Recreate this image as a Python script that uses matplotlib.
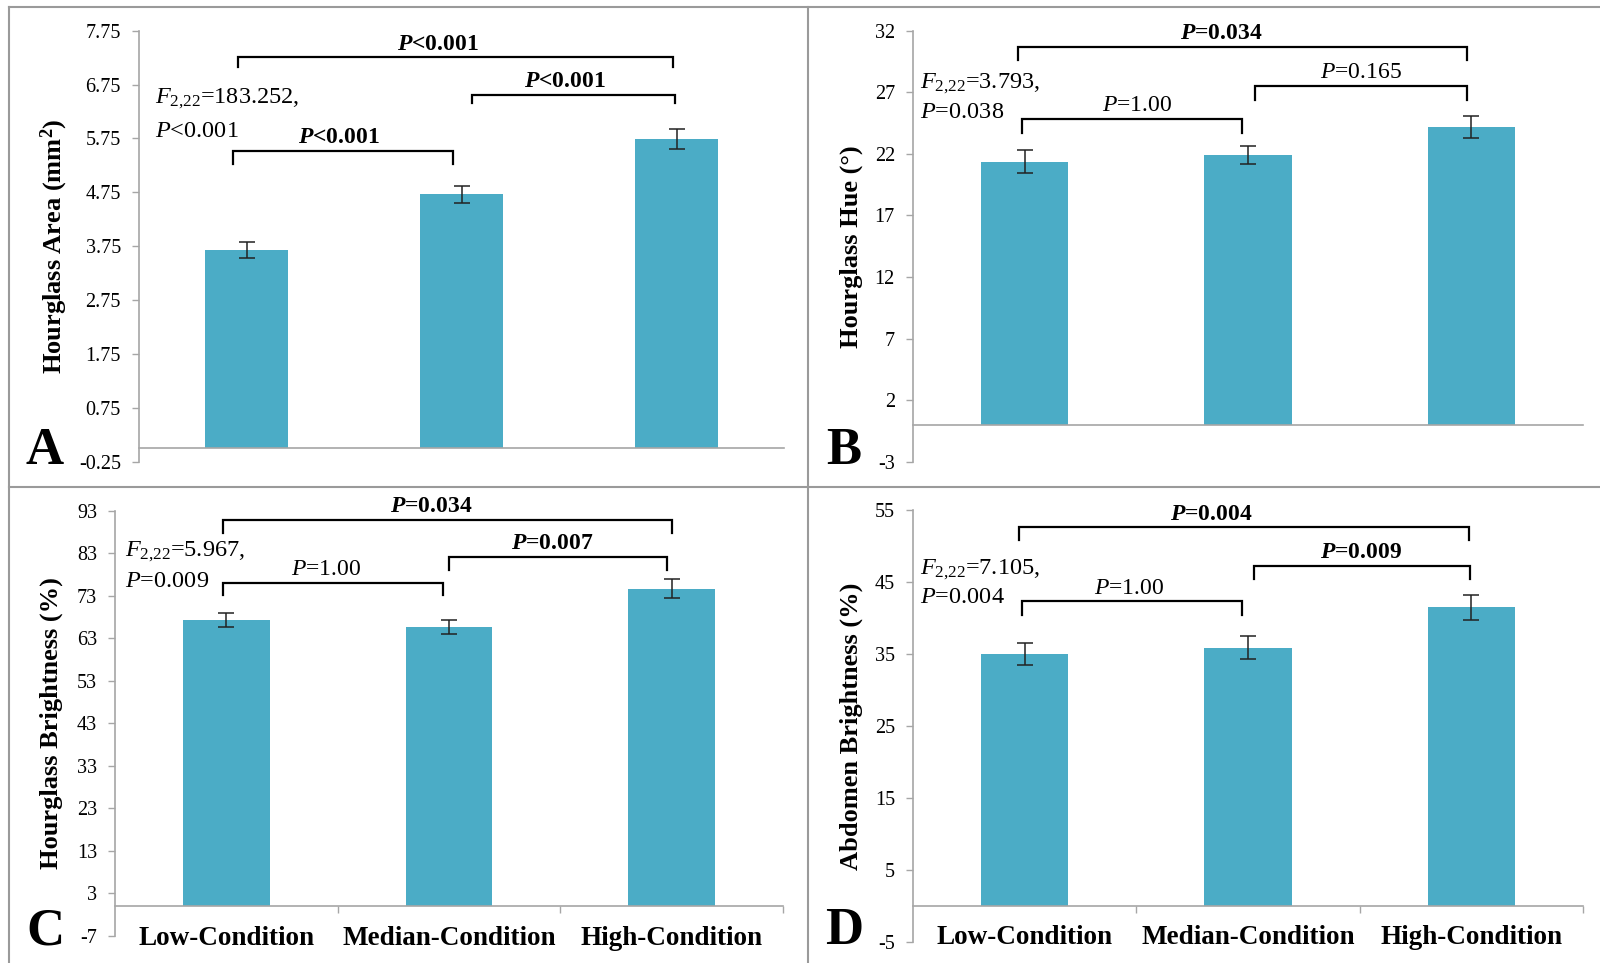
"""Four-panel bar chart of hourglass / abdomen measures by condition."""

import matplotlib

matplotlib.use("Agg")
import matplotlib.pyplot as plt
from matplotlib.lines import Line2D

plt.rcParams["font.family"] = ["Liberation Serif", "DejaVu Serif"]
plt.rcParams["mathtext.fontset"] = "custom"
plt.rcParams["mathtext.rm"] = "Liberation Serif"
plt.rcParams["mathtext.it"] = "Liberation Serif:italic"
plt.rcParams["mathtext.bf"] = "Liberation Serif:bold"
plt.rcParams["mathtext.bfit"] = "Liberation Serif:italic:bold"
plt.rcParams["axes.unicode_minus"] = False

conditions = ["Low-Condition", "Median-Condition", "High-Condition"]

area_mean = [3.68, 4.71, 5.74]
area_err = [0.14, 0.15, 0.19]
area_ticks = [-0.25, 0.75, 1.75, 2.75, 3.75, 4.75, 5.75, 6.75, 7.75]

hue_mean = [21.36, 21.88, 24.16]
hue_err = [0.95, 0.73, 0.90]
hue_ticks = [-3, 2, 7, 12, 17, 22, 27, 32]

hg_bright_mean = [67.3, 65.65, 74.7]
hg_bright_err = [1.7, 1.65, 2.2]
hg_bright_ticks = [-7, 3, 13, 23, 33, 43, 53, 63, 73, 83, 93]

abd_bright_mean = [35.0, 35.86, 41.48]
abd_bright_err = [1.55, 1.6, 1.75]
abd_bright_ticks = [-5, 5, 15, 25, 35, 45, 55]

# (left x, right x, line y, tip y, text x, label, bold)
area_brackets = [
    (-0.063, 0.960, 5.517, 5.276, 0.430, "<0.001", True),
    (1.049, 1.993, 6.557, 6.408, 1.481, "<0.001", True),
    (-0.040, 1.984, 7.256, 7.076, 0.891, "<0.001", True),
]
hue_brackets = [
    (-0.030, 1.981, 30.70, 29.62, 0.879, "=0.034", True),
    (-0.012, 0.973, 24.85, 23.72, 0.503, "=1.00", False),
    (1.032, 1.981, 27.51, 26.37, 1.506, "=0.165", False),
]
hg_bright_brackets = [
    (-0.015, 2.001, 90.81, 87.69, 0.919, "=0.034", True),
    (-0.015, 0.973, 76.07, 73.18, 0.450, "=1.00", False),
    (1.002, 1.979, 82.18, 79.06, 1.465, "=0.007", True),
]
abd_bright_brackets = [
    (-0.025, 1.990, 52.60, 50.83, 0.835, "=0.004", True),
    (-0.012, 0.973, 42.31, 40.41, 0.467, "=1.00", False),
    (1.027, 1.994, 47.26, 45.41, 1.506, "=0.009", True),
]

# ANOVA summary: (F text, P text, x, baseline y line 1, baseline y line 2)
area_stats = ("=183.252,", "<0.001", -0.426, 6.402, 5.782)
hue_stats = ("=3.793,", "=0.038", -0.469, 27.35, 24.91)
hg_bright_stats = ("=5.967,", "=0.009", -0.455, 82.18, 75.0)
abd_bright_stats = ("=7.105,", "=0.004", -0.469, 46.1, 42.03)

BAR_COLOR = "#4BACC6"
AXIS_COLOR = "#A6A6A6"
W, H = 1600, 963


def px_rect(left, top, right, bottom):
    return [left / W, (H - bottom) / H, (right - left) / W, (bottom - top) / H]


def draw_panel(ax, means, errs, ticks, ylabel, label_x, brackets, stats, show_x):
    x = range(len(conditions))
    ax.bar(x, means, width=0.39, color=BAR_COLOR, zorder=2)
    ax.errorbar(x, means, yerr=errs, fmt="none", ecolor="#222222",
                elinewidth=1.1, capsize=6, capthick=1.1, zorder=3)
    ax.set_xlim(-0.5, 2.5)
    ax.set_ylim(ticks[0], ticks[-1])
    ax.set_yticks(ticks)
    if isinstance(ticks[0], float):
        ax.set_yticklabels([f"{t:.2f}" for t in ticks])
    ax.tick_params(axis="y", direction="out", length=5, width=1.0,
                   color=AXIS_COLOR, labelsize=14.5, pad=8)
    for side in ("top", "right"):
        ax.spines[side].set_visible(False)
    ax.spines["bottom"].set_position(("data", 0))
    for side in ("left", "bottom"):
        ax.spines[side].set_color(AXIS_COLOR)
        ax.spines[side].set_linewidth(1.2)

    if show_x:
        ax.set_xticks([0.5, 1.5, 2.5])
        ax.set_xticklabels([])
        ax.set_xticks(list(x), minor=True)
        ax.set_xticklabels(conditions, minor=True, fontsize=19.5,
                           fontweight="bold")
        ax.tick_params(axis="x", which="major", direction="out", length=5,
                       width=1.0, color=AXIS_COLOR)
        ax.tick_params(axis="x", which="minor", length=0, pad=14)
    else:
        ax.set_xticks([])

    ax.set_ylabel(ylabel, fontsize=19, fontweight="bold", va="center")
    ax.yaxis.set_label_coords(label_x, 0.5)

    for x1, x2, y_line, y_tip, tx, text, bold in brackets:
        ax.plot([x1, x1, x2, x2], [y_tip, y_line, y_line, y_tip],
                color="black", linewidth=1.6, solid_joinstyle="miter",
                zorder=4)
        if bold:
            s = r"$\mathbfit{P}$" + text
            weight = "bold"
        else:
            s = r"$\mathit{P}$" + text
            weight = "normal"
        ax.annotate(s, xy=(tx, y_line), xytext=(0, 5.5),
                    textcoords="offset points", ha="center", va="baseline",
                    fontsize=17, fontweight=weight)

    f_text, p_text, sx, y1, y2 = stats
    ax.text(sx, y1, r"$\mathit{F}_{\mathrm{2{,}22}}$" + f_text,
            fontsize=17.5, ha="left", va="baseline")
    ax.text(sx, y2, r"$\mathit{P}$" + p_text,
            fontsize=17.5, ha="left", va="baseline")


fig = plt.figure(figsize=(W / 100, H / 100), dpi=100)

ax_a = fig.add_axes(px_rect(139, 30.7, 784, 461.7))
ax_b = fig.add_axes(px_rect(913, 30.7, 1583, 461.7))
ax_c = fig.add_axes(px_rect(115, 510.7, 783, 936))
ax_d = fig.add_axes(px_rect(913, 510, 1583, 941.7))

draw_panel(ax_a, area_mean, area_err, area_ticks,
           r"Hourglass Area (mm$^{\mathbf{2}}$)", -0.132,
           area_brackets, area_stats, False)
draw_panel(ax_b, hue_mean, hue_err, hue_ticks,
           "Hourglass Hue (°)", -0.0925,
           hue_brackets, hue_stats, False)
draw_panel(ax_c, hg_bright_mean, hg_bright_err, hg_bright_ticks,
           "Hourglass Brightness (%)", -0.096,
           hg_bright_brackets, hg_bright_stats, True)
draw_panel(ax_d, abd_bright_mean, abd_bright_err, abd_bright_ticks,
           "Abdomen Brightness (%)", -0.0925,
           abd_bright_brackets, abd_bright_stats, True)

# panel letters
for letter, lx, ly in [("A", 25, 464), ("B", 826, 464),
                       ("C", 26, 944), ("D", 825, 944)]:
    fig.text(lx / W, (H - ly) / H, letter, fontsize=38, fontweight="bold",
             ha="left", va="baseline")

# panel frame
frame = dict(color="#9A9A9A", linewidth=1.5, transform=fig.transFigure)
fig.add_artist(Line2D([9 / W, 1], [(H - 7) / H] * 2, **frame))
fig.add_artist(Line2D([9 / W] * 2, [0, (H - 7) / H], **frame))
fig.add_artist(Line2D([808 / W] * 2, [0, (H - 7) / H], **frame))
fig.add_artist(Line2D([9 / W, 1], [(H - 487) / H] * 2, **frame))

fig.savefig("out.png", dpi=100)
plt.close(fig)
